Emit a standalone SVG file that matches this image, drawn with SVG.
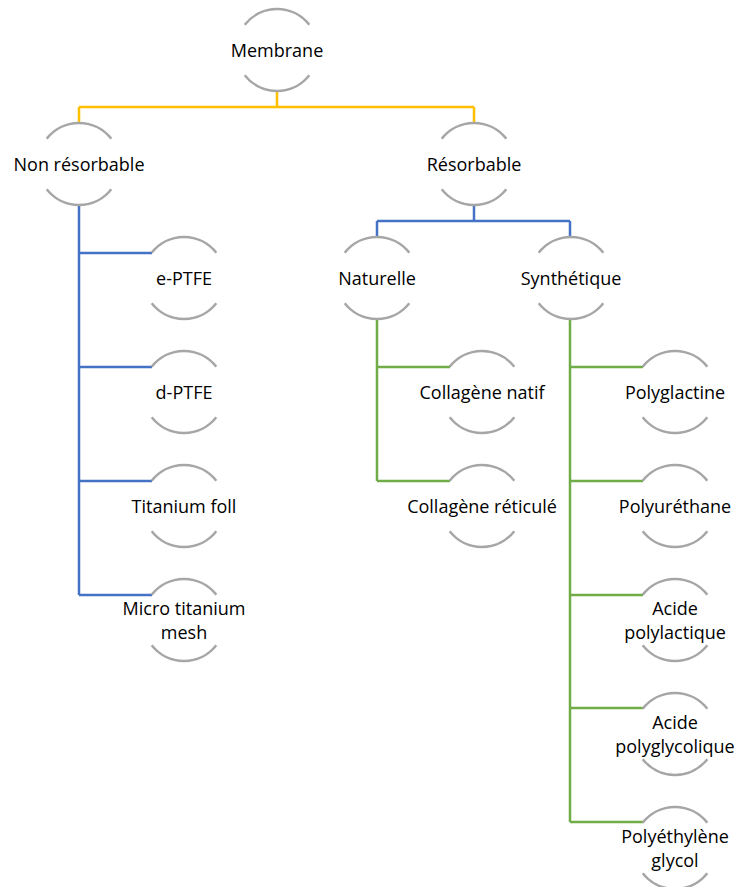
<svg xmlns="http://www.w3.org/2000/svg" width="739" height="887" viewBox="0 0 739 887">
<style>
.arc{fill:none;stroke:#A6A6A6;stroke-width:2.5}
.t{font-family:"Open Sans","Liberation Sans",sans-serif;font-size:18px;fill:#000;text-anchor:middle}
.y{fill:none;stroke:#FFC000;stroke-width:2.5}
.b{fill:none;stroke:#4472C4;stroke-width:2.5}
.g{fill:none;stroke:#70AD47;stroke-width:2.5}
</style>
<defs>
<path id="arcs" class="arc" d="M-32.3,-25.2 A41,41 0 0 1 32.3,-25.2 M-32.3,25.2 A41,41 0 0 0 32.3,25.2"/>
</defs>
<rect width="739" height="887" fill="#fff"/>
<g id="connectors">
<path class="y" d="M277,90V107M79,107H474M79,107V123M474,107V123"/>
<path class="b" d="M474,205V221M377,221H570M377,221V238M570,221V238"/>
<path class="b" d="M79,205V595M79,253H152M79,367H152M79,481H152M79,595H152"/>
<path class="g" d="M377,319V481M377,367H450M377,481H450"/>
<path class="g" d="M570,319V822M570,367H643M570,481H643M570,595H643M570,708H643M570,822H643"/>
</g>
<g id="n-membrane" transform="translate(277,50)"><use href="#arcs"/><text class="t" y="6.5">Membrane</text></g>
<g id="n-nonresorbable" transform="translate(79,164)"><use href="#arcs"/><text class="t" y="6.5">Non résorbable</text></g>
<g id="n-resorbable" transform="translate(474,164)"><use href="#arcs"/><text class="t" y="6.5">Résorbable</text></g>
<g id="n-naturelle" transform="translate(377,278)"><use href="#arcs"/><text class="t" y="6.5">Naturelle</text></g>
<g id="n-synthetique" transform="translate(571,278)"><use href="#arcs"/><text class="t" y="6.5">Synthétique</text></g>
<g id="n-eptfe" transform="translate(184,278)"><use href="#arcs"/><text class="t" y="6.5">e-PTFE</text></g>
<g id="n-dptfe" transform="translate(184,392)"><use href="#arcs"/><text class="t" y="6.5">d-PTFE</text></g>
<g id="n-titanium" transform="translate(184,506)"><use href="#arcs"/><text class="t" y="6.5">Titanium foll</text></g>
<g id="n-micro" transform="translate(184,620)"><use href="#arcs"/><text class="t" y="-5">Micro titanium</text><text class="t" y="19">mesh</text></g>
<g id="n-colnatif" transform="translate(482,392)"><use href="#arcs"/><text class="t" y="6.5">Collagène natif</text></g>
<g id="n-colreticule" transform="translate(482,506)"><use href="#arcs"/><text class="t" y="6.5">Collagène réticulé</text></g>
<g id="n-polyglactine" transform="translate(675,392)"><use href="#arcs"/><text class="t" y="6.5">Polyglactine</text></g>
<g id="n-polyurethane" transform="translate(675,506)"><use href="#arcs"/><text class="t" y="6.5">Polyuréthane</text></g>
<g id="n-pla" transform="translate(675,620)"><use href="#arcs"/><text class="t" y="-5">Acide</text><text class="t" y="19">polylactique</text></g>
<g id="n-pga" transform="translate(675,734)"><use href="#arcs"/><text class="t" y="-5">Acide</text><text class="t" y="19">polyglycolique</text></g>
<g id="n-peg" transform="translate(675,848)"><use href="#arcs"/><text class="t" y="-5">Polyéthylène</text><text class="t" y="19">glycol</text></g>
</svg>
